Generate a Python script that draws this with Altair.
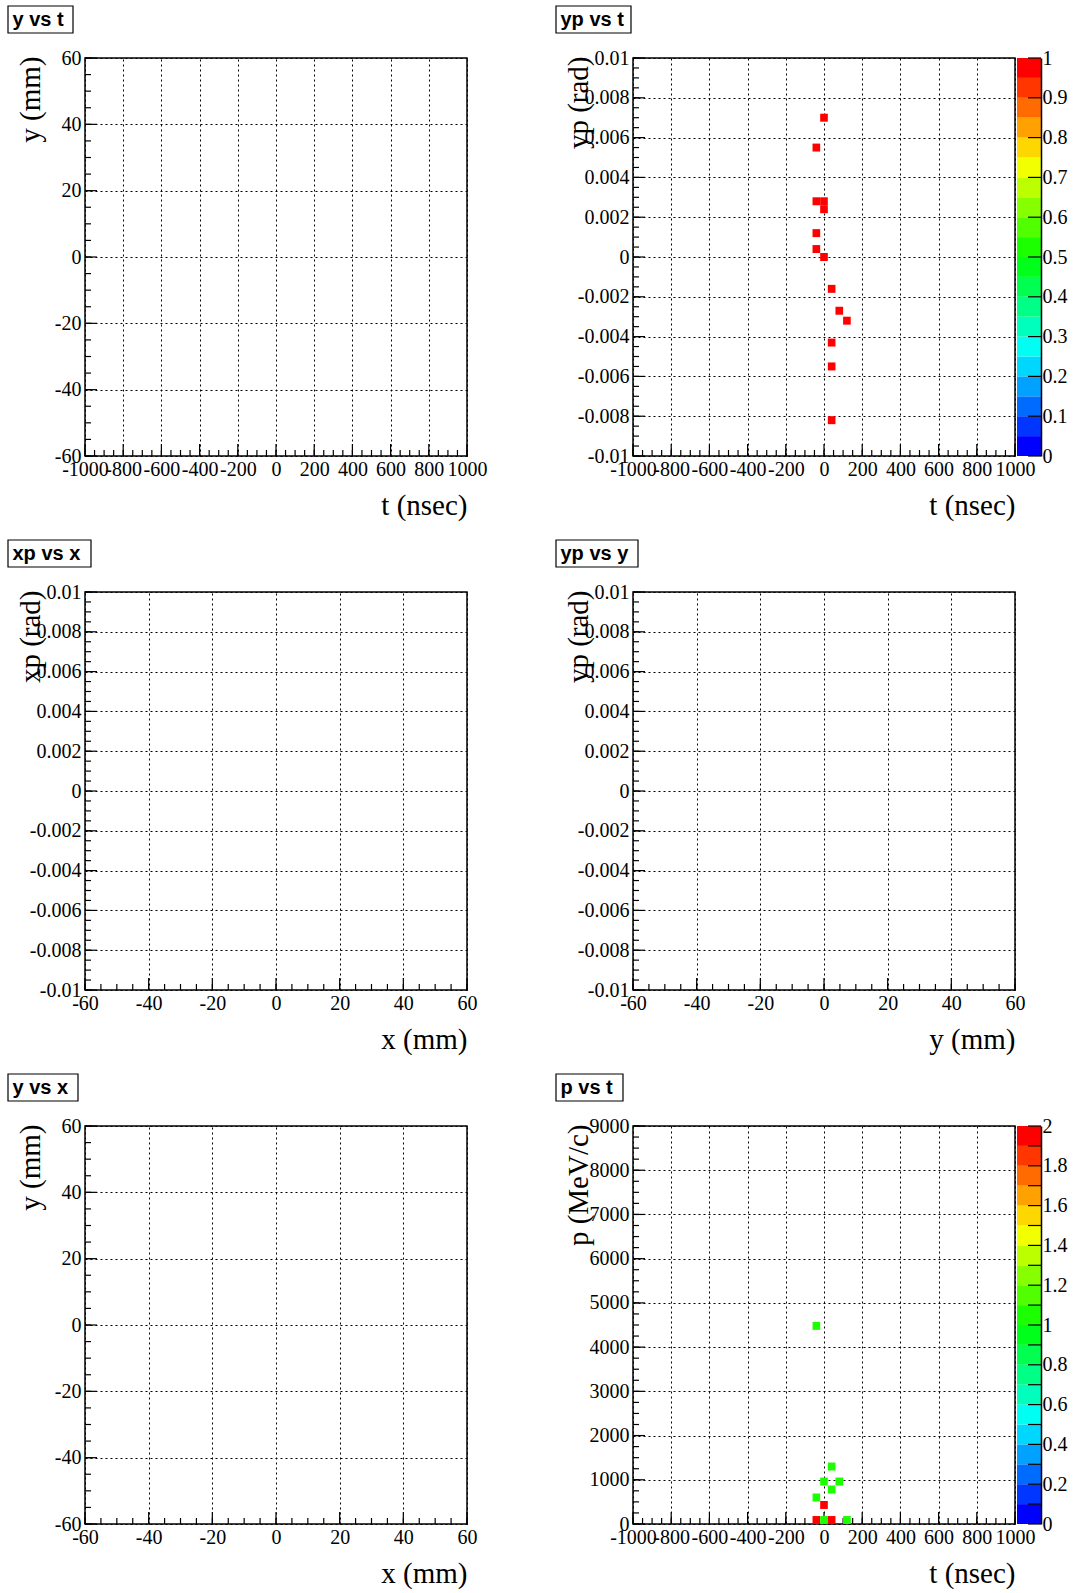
import altair as alt
import pandas as pd

# plot-area size of every pad (pixels)
W, H = 382, 398

# axis tick labels
t_labels = [-1000, -800, -600, -400, -200, 0, 200, 400, 600, 800, 1000]
mm_labels = [-60, -40, -20, 0, 20, 40, 60]
rad_labels = [-0.01, -0.008, -0.006, -0.004, -0.002, 0, 0.002, 0.004, 0.006, 0.008, 0.01]
p_labels = [0, 1000, 2000, 3000, 4000, 5000, 6000, 7000, 8000, 9000]
z1_labels = [0, 0.1, 0.2, 0.3, 0.4, 0.5, 0.6, 0.7, 0.8, 0.9, 1]
z2_labels = [0, 0.2, 0.4, 0.6, 0.8, 1, 1.2, 1.4, 1.6, 1.8, 2]
z2_ticks = [0, 0.1, 0.2, 0.3, 0.4, 0.5, 0.6, 0.7, 0.8, 0.9, 1,
            1.1, 1.2, 1.3, 1.4, 1.5, 1.6, 1.7, 1.8, 1.9, 2]

# filled bins of the "yp vs t" histogram (bin centres, entries)
ypt_t = [0, -40, -40, 0, 0, -40, -40, 0, 40, 80, 120, 40, 40, 40]
ypt_yp = [0.0070, 0.0055, 0.0028, 0.0028, 0.0024, 0.0012, 0.0004, 0.0,
          -0.0016, -0.0027, -0.0032, -0.0043, -0.0055, -0.0082]
ypt_n = [1, 1, 1, 1, 1, 1, 1, 1, 1, 1, 1, 1, 1, 1]

# filled bins of the "p vs t" histogram (bin centres, entries)
pt_t = [-40, 40, 0, 80, 40, -40, 0, -40, 0, 40, 120]
pt_p = [4480, 1300, 960, 960, 780, 600, 430, 90, 90, 90, 90]
pt_n = [1, 1, 1, 1, 1, 1, 2, 2, 1, 2, 1]

# 20-level rainbow palette, low to high
PALETTE = ["#0000ff", "#0036ff", "#006bff", "#00a1ff", "#00d7ff",
           "#00fff2", "#00ffbc", "#00ff86", "#00ff51", "#00ff1b",
           "#1bff00", "#51ff00", "#86ff00", "#bcff00", "#f2ff00",
           "#ffd700", "#ffa100", "#ff6b00", "#ff3600", "#ff0000"]

SERIF = "Liberation Serif"
SANS = "Liberation Sans"
LABEL = "datum.value < 0 ? '-' + format(-datum.value, '~g') : format(datum.value, '~g')"
PAL_EXPR = "[" + ",".join(f"'{c}'" for c in PALETTE) + "]"


def level_color(field, zmax):
    # colour of the palette level that contains the value
    return f"{PAL_EXPR}[min(19, floor(datum.{field} / {zmax} * 20))]"


def steps(lo, hi, step):
    n = int(round((hi - lo) / step))
    return [round(lo + i * step, 10) for i in range(n + 1)]


def colorbar(zmax, labels, ticks):
    zs = alt.Scale(domain=[0, zmax], nice=False, zero=False)
    edges = [round(zmax * k / 20, 10) for k in range(21)]
    bands = pd.DataFrame({"lo": edges[:-1], "hi": edges[1:]})
    bands["mid"] = (bands["lo"] + bands["hi"]) / 2
    cax = alt.Axis(orient="right", offset=26, values=labels, labelExpr=LABEL,
                   domain=True, domainColor="black", domainWidth=1.5,
                   ticks=False, grid=False, title=None, labelPadding=1,
                   labelAlign="left", labelBaseline="middle", zindex=2)
    rects = alt.Chart(bands).transform_calculate(
        col=level_color("mid", zmax)
    ).mark_rect().encode(
        y=alt.Y("lo:Q", scale=zs, axis=cax),
        y2="hi:Q",
        x=alt.value(W + 2), x2=alt.value(W + 26),
        color=alt.Color("col:N", scale=None, legend=None),
    )
    tk = alt.Chart(pd.DataFrame({"v": ticks})).mark_rule(color="black", strokeWidth=1.2).encode(
        y=alt.Y("v:Q", scale=zs, axis=cax),
        x=alt.value(W + 13), x2=alt.value(W + 26),
    )
    return alt.layer(rects, tk)


def pad(title, box_w, xdom, xmaj, xstep, xtitle, ydom, ymaj, ystep, ytitle,
        data=None, half=None, zmax=None, zlabels=None, zticks=None):
    xs = alt.Scale(domain=xdom, nice=False, zero=False)
    ys = alt.Scale(domain=ydom, nice=False, zero=False)
    xaxis = alt.Axis(values=xmaj, labelExpr=LABEL, title=xtitle, grid=True,
                     titleX=W, titleY=58, titleAlign="right",
                     titleBaseline="alphabetic", titleAngle=0, labelPadding=3)
    yaxis = alt.Axis(values=ymaj, labelExpr=LABEL, title=ytitle, grid=True,
                     titleX=-55, titleY=-2, titleAngle=270, titleAlign="right",
                     titleBaseline="middle", labelPadding=4)
    xminor = steps(xdom[0], xdom[1], xstep)
    yminor = steps(ydom[0], ydom[1], ystep)

    layers = [
        alt.Chart(pd.DataFrame({"v": xmaj})).mark_rule(color="black", strokeWidth=1.2).encode(
            x=alt.X("v:Q", scale=xs, axis=xaxis), y=alt.value(H), y2=alt.value(H - 12)),
        alt.Chart(pd.DataFrame({"v": xminor})).mark_rule(color="black", strokeWidth=1.2).encode(
            x=alt.X("v:Q", scale=xs, axis=xaxis), y=alt.value(H), y2=alt.value(H - 6)),
        alt.Chart(pd.DataFrame({"v": ymaj})).mark_rule(color="black", strokeWidth=1.2).encode(
            y=alt.Y("v:Q", scale=ys, axis=yaxis), x=alt.value(0), x2=alt.value(12)),
        alt.Chart(pd.DataFrame({"v": yminor})).mark_rule(color="black", strokeWidth=1.2).encode(
            y=alt.Y("v:Q", scale=ys, axis=yaxis), x=alt.value(0), x2=alt.value(6)),
    ]

    if data is not None:
        hx, hy = half
        layers.append(
            alt.Chart(data).transform_calculate(
                x0=f"datum.x - {hx}", x1=f"datum.x + {hx}",
                y0=f"datum.y - {hy}", y1=f"datum.y + {hy}",
                col=level_color("n", zmax),
            ).mark_rect().encode(
                x=alt.X("x0:Q", scale=xs, axis=xaxis), x2="x1:Q",
                y=alt.Y("y0:Q", scale=ys, axis=yaxis), y2="y1:Q",
                color=alt.Color("col:N", scale=None, legend=None),
            )
        )

    # title box in the upper-left corner of the pad
    lab = pd.DataFrame({"s": [title]})
    layers.append(alt.Chart(lab).mark_rect(fill="white", stroke="black", strokeWidth=1.2).encode(
        x=alt.value(-77), x2=alt.value(-77 + box_w), y=alt.value(-52), y2=alt.value(-25)))
    layers.append(alt.Chart(lab).mark_text(
        align="left", baseline="alphabetic", font=SANS, fontWeight="bold",
        fontSize=20, color="black").encode(
        x=alt.value(-72.5), y=alt.value(-32), text="s:N"))

    main = alt.layer(*layers).properties(width=W, height=H)
    if zmax is None:
        return main
    return alt.layer(main, colorbar(zmax, zlabels, zticks)).resolve_scale(
        y="independent").properties(width=W, height=H)


ypt = pd.DataFrame({"x": ypt_t, "y": ypt_yp, "n": ypt_n})
pt = pd.DataFrame({"x": pt_t, "y": pt_p, "n": pt_n})

p1 = pad("y vs t", 65, [-1000, 1000], t_labels, 50, "t (nsec)",
         [-60, 60], mm_labels, 5, "y (mm)")
p2 = pad("yp vs t", 75, [-1000, 1000], t_labels, 50, "t (nsec)",
         [-0.01, 0.01], rad_labels, 0.0005, "yp (rad)",
         data=ypt, half=(20, 0.0002), zmax=1, zlabels=z1_labels, zticks=z1_labels)
p3 = pad("xp vs x", 83, [-60, 60], mm_labels, 5, "x (mm)",
         [-0.01, 0.01], rad_labels, 0.0005, "xp (rad)")
p4 = pad("yp vs y", 82, [-60, 60], mm_labels, 5, "y (mm)",
         [-0.01, 0.01], rad_labels, 0.0005, "yp (rad)")
p5 = pad("y vs x", 70, [-60, 60], mm_labels, 5, "x (mm)",
         [-60, 60], mm_labels, 5, "y (mm)")
p6 = pad("p vs t", 67, [-1000, 1000], t_labels, 50, "t (nsec)",
         [0, 9000], p_labels, 250, "p (MeV/c)",
         data=pt, half=(20, 90), zmax=2, zlabels=z2_labels, zticks=z2_ticks)

chart = alt.concat(p1, p2, p3, p4, p5, p6, columns=2).properties(
    spacing={"row": 136, "column": 166},
    bounds="flush",
    padding={"left": 6, "top": 4, "right": 4, "bottom": 2},
    background="white",
).configure_view(
    stroke="black", strokeWidth=1.5,
).configure_axis(
    labelFont=SERIF, labelFontSize=20, labelColor="black",
    titleFont=SERIF, titleFontSize=29, titleFontWeight="normal", titleColor="black",
    domain=False, ticks=False, tickSize=0,
    labelOverlap=False, labelFlush=False,
    gridColor="black", gridDash=[2, 3], gridOpacity=1, gridWidth=1,
)

chart.save("out.html", embed_options={"renderer": "svg", "actions": False})
